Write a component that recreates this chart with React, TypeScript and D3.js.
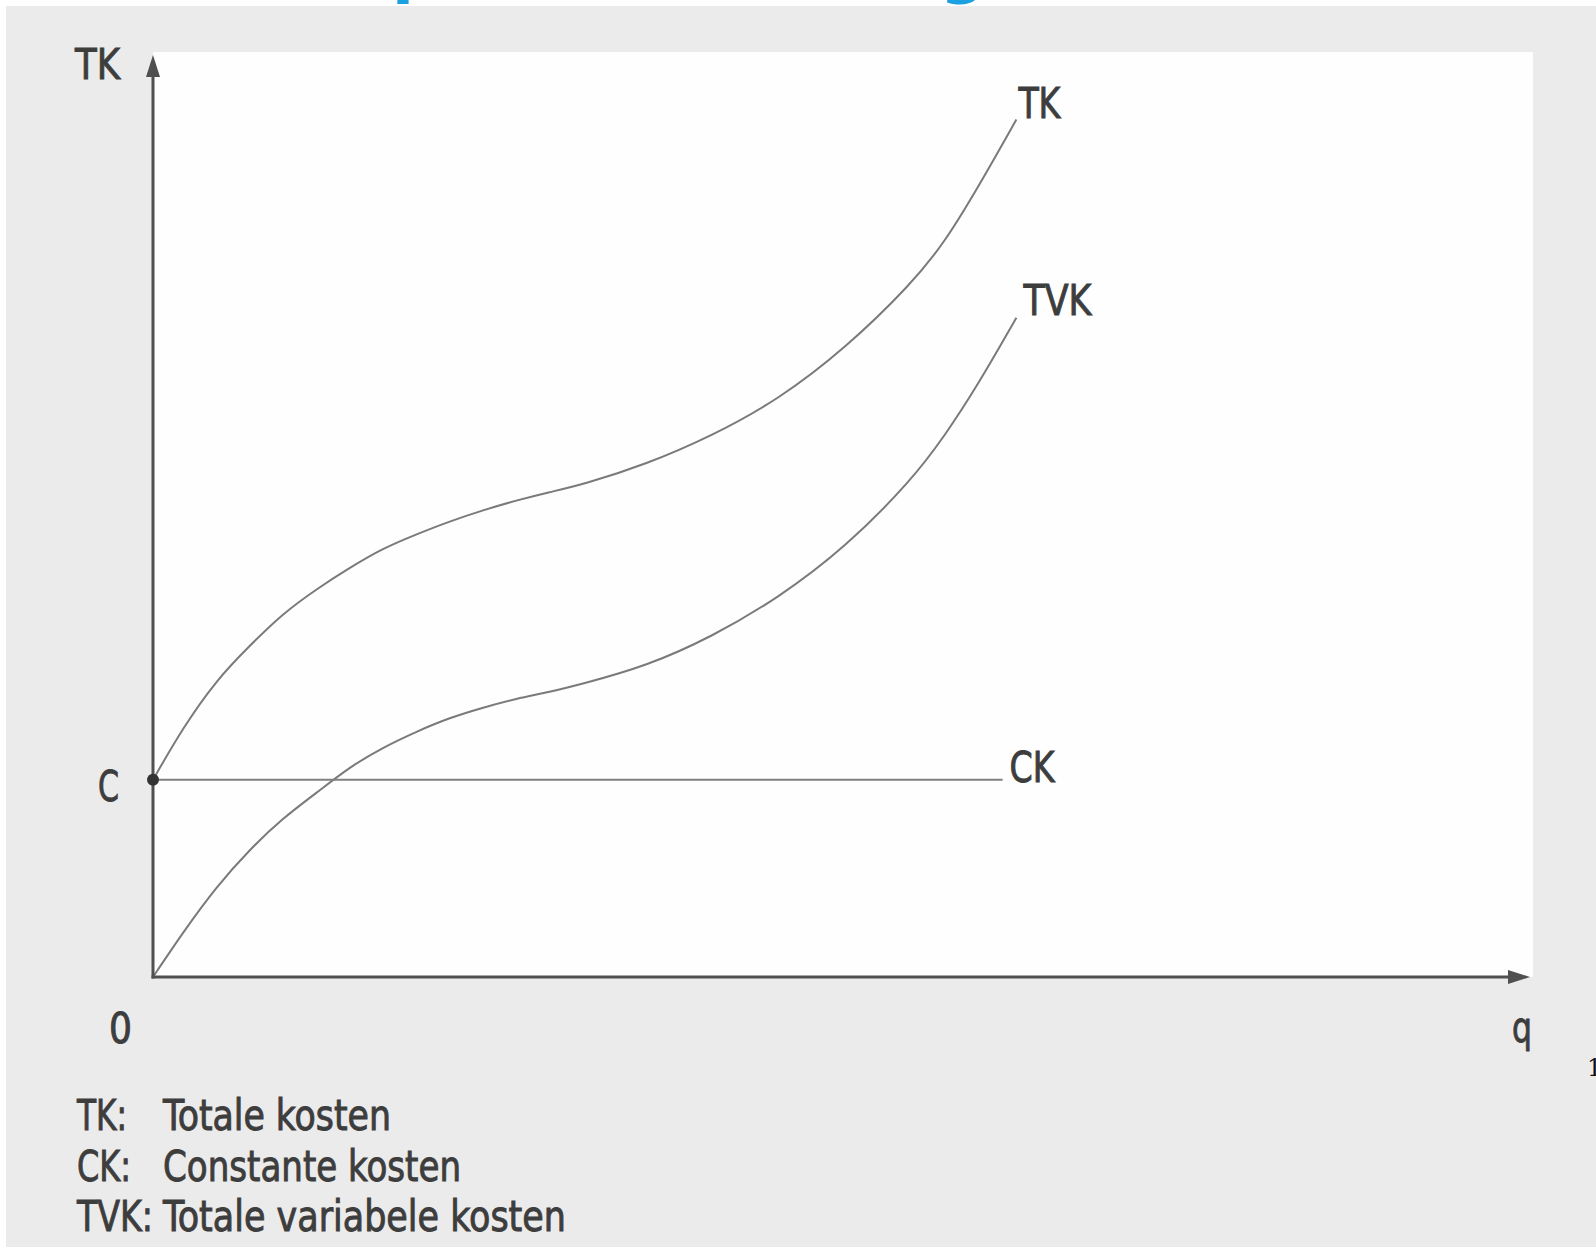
import React, { useEffect, useRef } from "react";
import * as d3 from "d3";

// quantity q (horizontal) and cost levels
const quantities = [0, 0.22, 0.46, 0.7, 0.94, 1.19, 1.43, 1.67, 1.91, 2.15, 2.39, 2.64, 2.88, 3.12, 3.58, 4.06, 4.54, 5.03, 5.51, 5.75, 5.99, 6.27];
const totalCost = [2.14, 2.71, 3.22, 3.59, 3.94, 4.21, 4.44, 4.65, 4.8, 4.94, 5.06, 5.17, 5.26, 5.34, 5.56, 5.87, 6.26, 6.82, 7.52, 7.97, 8.56, 9.3];
const variableCost = [0, 0.49, 0.98, 1.38, 1.72, 2.0, 2.28, 2.49, 2.66, 2.81, 2.92, 3.02, 3.09, 3.18, 3.37, 3.69, 4.11, 4.66, 5.39, 5.87, 6.42, 7.15];
const constantCost = 2.14;
const constantEnd = 6.17;

const curveLabels = ["TK", "TVK", "CK"];
const legendKeys = ["TK:", "CK:", "TVK:"];
const legendTexts = ["Totale kosten", "Constante kosten", "Totale variabele kosten"];

const W = 1596;
const H = 1247;
const FONT = "'DejaVu Sans Condensed', 'Liberation Sans Narrow', 'DejaVu Sans', sans-serif";
const INK = "#3d3d3d";

const App: React.FC = () => {
  const ref = useRef<SVGSVGElement | null>(null);

  useEffect(() => {
    const svg = d3.select(ref.current);
    svg.selectAll("*").remove();

    const x = d3.scaleLinear().domain([0, 10]).range([153, 1530]);
    const y = d3.scaleLinear().domain([0, 10]).range([977, 55]);

    // page + scanned background
    svg.append("rect").attr("width", W).attr("height", H).attr("fill", "#ffffff");
    svg.append("rect").attr("x", 6).attr("y", 6).attr("width", W - 6).attr("height", H - 6).attr("fill", "#ebebeb");
    svg.append("rect")
      .attr("x", x(0)).attr("y", 52)
      .attr("width", 1533 - x(0)).attr("height", y(0) - 52)
      .attr("fill", "#fefefe");

    // cut-off title glyphs at the top edge
    const title = svg.append("g").attr("fill", "#1ba1e2").attr("font-family", "'DejaVu Sans', sans-serif")
      .attr("font-weight", "bold").attr("font-size", 64);
    title.append("text").attr("x", 392).attr("y", -9).text("p");
    title.append("text").attr("x", 940).attr("y", -9).text("g");

    // page number
    svg.append("text").attr("x", 1587).attr("y", 1076).attr("font-family", "'DejaVu Serif', serif")
      .attr("font-size", 24).attr("fill", "#111").text("1");

    // curves
    const pts = (vals: number[]) => quantities.map((q, i) => [q, vals[i]] as [number, number]);
    const line = d3.line<[number, number]>()
      .x((d) => x(d[0]))
      .y((d) => y(d[1]))
      .curve(d3.curveBasis);

    svg.append("path").attr("d", line(pts(totalCost)) || "")
      .attr("fill", "none").attr("stroke", "#7a7a7a").attr("stroke-width", 2);
    svg.append("path").attr("d", line(pts(variableCost)) || "")
      .attr("fill", "none").attr("stroke", "#7a7a7a").attr("stroke-width", 2);
    svg.append("line")
      .attr("x1", x(0)).attr("x2", x(constantEnd))
      .attr("y1", y(constantCost)).attr("y2", y(constantCost))
      .attr("stroke", "#808080").attr("stroke-width", 2);

    // axes with arrow heads
    const axisColor = "#505050";
    svg.append("line").attr("x1", x(0)).attr("x2", x(0)).attr("y1", y(0) + 1.5).attr("y2", y(10) + 12)
      .attr("stroke", axisColor).attr("stroke-width", 3);
    svg.append("line").attr("x1", x(0) - 1.5).attr("x2", x(10) - 12).attr("y1", y(0)).attr("y2", y(0))
      .attr("stroke", axisColor).attr("stroke-width", 3);
    svg.append("path")
      .attr("d", `M${x(0)},${y(10)} L${x(0) - 7},${y(10) + 22} L${x(0) + 7},${y(10) + 22} Z`)
      .attr("fill", axisColor);
    svg.append("path")
      .attr("d", `M${x(10)},${y(0)} L${x(10) - 22},${y(0) - 7} L${x(10) - 22},${y(0) + 7} Z`)
      .attr("fill", axisColor);

    // point C
    svg.append("circle").attr("cx", x(0)).attr("cy", y(constantCost)).attr("r", 6).attr("fill", "#333");

    const txt = (s: string, tx: number, ty: number, len: number, size = 42) =>
      svg.append("text")
        .attr("x", tx).attr("y", ty)
        .attr("font-family", FONT).attr("font-size", size)
        .attr("fill", INK)
        .attr("stroke", INK).attr("stroke-width", 0.9)
        .attr("textLength", len).attr("lengthAdjust", "spacingAndGlyphs")
        .text(s);

    // axis labels
    txt("TK", 75, 79, 45);
    txt("C", 98, 801, 21);
    txt("0", 109, 1043, 23);
    txt("q", 1512, 1042, 20);

    // curve labels
    const lastQ = quantities[quantities.length - 1];
    txt(curveLabels[0], x(lastQ) + 2, y(totalCost[totalCost.length - 1]) - 2, 42);
    txt(curveLabels[1], x(lastQ) + 7, y(variableCost[variableCost.length - 1]) - 3, 68);
    txt(curveLabels[2], x(constantEnd) + 7, y(constantCost) + 2, 45);

    // legend
    const keyLens = [50, 54, 76];
    const textLens = [228, 298, 403];
    legendKeys.forEach((k, i) => {
      const by = 1130 + i * 50.5;
      txt(k, 77, by, keyLens[i], 42);
      txt(legendTexts[i], 163, by, textLens[i], 42);
    });
  }, []);

  return (
    <svg
      ref={ref}
      width={W}
      height={H}
      style={{ position: "absolute", left: 0, top: 0, display: "block" }}
    />
  );
};

export default App;
